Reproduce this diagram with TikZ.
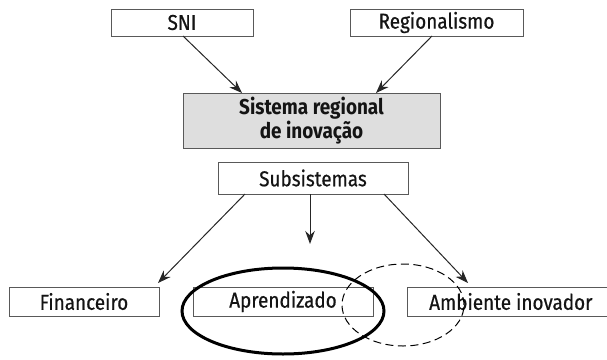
\documentclass[tikz,border=0pt]{standalone}
\usepackage{fontspec}
\setmainfont[FakeStretch=0.88,UprightFeatures={FakeBold=0.6}]{Fira Sans}
\usetikzlibrary{arrows.meta}
\begin{document}
\begin{tikzpicture}[x=1pt,y=-1pt,
  txt/.style={font=\fontsize{21.5}{23}\selectfont,text=black!92},
  box/.style={txt,draw=black!65,line width=0.7pt,inner sep=0pt},
  arr/.style={draw=black!85,line width=1pt,-{Stealth[length=13pt,width=9.5pt]}}]
  \useasboundingbox (0,0) rectangle (607,359);
  % top sources
  \node[box,minimum width=142pt,minimum height=27pt] (sni) at (182,22.5) {SNI};
  \node[box,minimum width=173pt,minimum height=27pt] (reg) at (436.5,22.5) {Regionalismo};
  % central system
  \node[box,fill=black!13,minimum width=257pt,minimum height=55pt,align=center,
        font=\bfseries\fontsize{21.5}{24}\selectfont] (sri) at (311.5,120.5) {Sistema regional\\de inovação};
  % subsystems
  \node[box,minimum width=190pt,minimum height=32pt] (sub) at (313,178) {Subsistemas};
  \node[box,minimum width=150pt,minimum height=29pt] (fin) at (84,301.5) {Financeiro};
  \node[box,minimum width=180pt,minimum height=29pt] (apr) at (283,301.5) {Aprendizado};
  \draw[draw=black!65,line width=0.7pt] (620,287) -- (407,287) -- (407,316) -- (620,316);
  \node[txt,anchor=west,inner sep=0pt] (amb) at (429,301.5) {Ambiente inovador};
  % connectors
  \coordinate (sniout) at (183,36);
  \coordinate (regout) at (432,36);
  \draw[arr] (sniout) -- (242,93);
  \draw[arr] (regout) -- (376,93);
  \coordinate (s1) at (245,194);
  \coordinate (s2) at (310,194);
  \coordinate (s3) at (384,194);
  \coordinate (t1) at (158,283);
  \coordinate (t2) at (310,244);
  \coordinate (t3) at (468,283);
  \draw[arr] (s1) -- (t1);
  \draw[arr] (s2) -- (t2);
  \draw[arr] (s3) -- (t3);
  % overlapping ellipses
  \draw[line width=3pt] (283,311) ellipse [x radius=101pt, y radius=43pt];
  \draw[line width=1pt,dashed,dash pattern=on 8pt off 4.5pt] (403,305) ellipse [x radius=61pt, y radius=41pt];
\end{tikzpicture}
\end{document}
